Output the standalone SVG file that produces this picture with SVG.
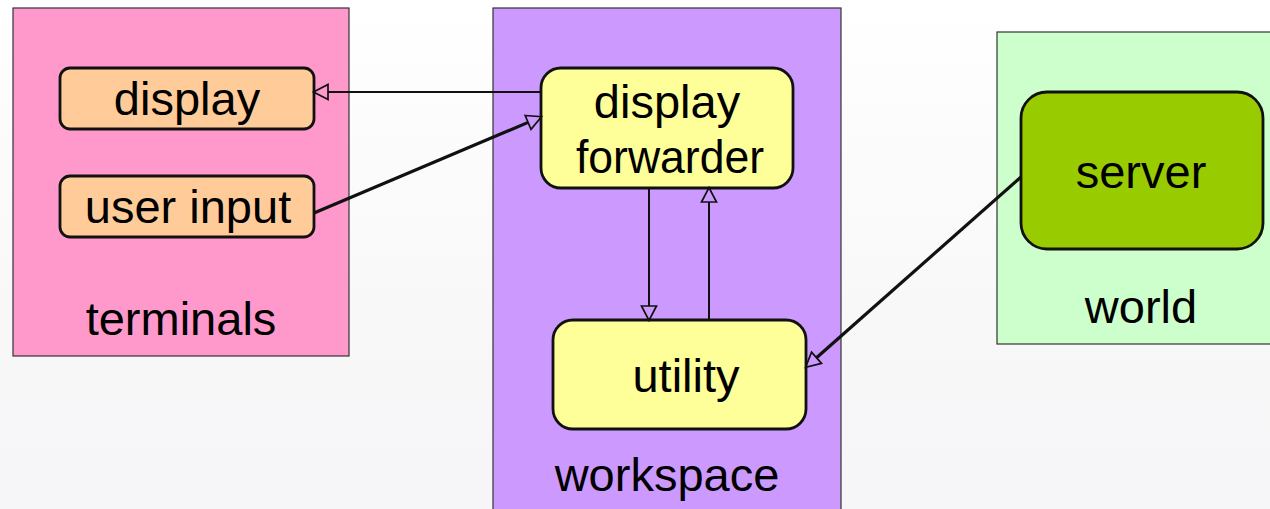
<svg xmlns="http://www.w3.org/2000/svg" width="1270" height="509" viewBox="0 0 1270 509">
  <defs>
    <linearGradient id="bg" x1="0" y1="0" x2="0" y2="1">
      <stop offset="0" stop-color="#ffffff"/>
      <stop offset="0.6" stop-color="#f8f8f9"/>
      <stop offset="1" stop-color="#f6f6f8"/>
    </linearGradient>
    <!-- hollow triangle head; its base sits at the line end -->
    <marker id="head" markerUnits="userSpaceOnUse" markerWidth="17" markerHeight="18" refX="0" refY="8" orient="auto" overflow="visible">
      <path d="M0,0.5 L14.5,8 L0,15.5 Z" fill="none" stroke="#111" stroke-width="1.7" stroke-linejoin="miter"/>
    </marker>
  </defs>
  <style>
    .frame { stroke: #333; stroke-width: 1.2; }
    .node { stroke: #111; stroke-width: 2.8; }
    .label { font-family: "Liberation Sans", Arial, sans-serif; font-size: 47px; fill: #000; text-anchor: middle; }
    .wire { fill: none; stroke: #111; stroke-width: 2; marker-end: url(#head); }
    .wire.thick { stroke-width: 3.2; }
  </style>

  <rect width="1270" height="509" fill="url(#bg)"/>

  <!-- containers -->
  <g id="terminals">
    <rect class="frame" x="13" y="8" width="336" height="348" fill="#ff99cc"/>
    <text class="label" x="181" y="335">terminals</text>
  </g>
  <g id="workspace">
    <rect class="frame" x="493" y="8" width="348" height="520" fill="#cc99ff"/>
    <text class="label" x="667" y="491">workspace</text>
  </g>
  <g id="world">
    <rect class="frame" x="997" y="32" width="290" height="312" fill="#ccffcc"/>
    <text class="label" x="1141" y="323">world</text>
  </g>

  <!-- nodes -->
  <g id="display">
    <rect class="node" x="60" y="68" width="254" height="61" rx="10" fill="#ffcc99"/>
    <text class="label" x="187" y="115">display</text>
  </g>
  <g id="user-input">
    <rect class="node" x="60" y="176" width="254" height="61" rx="10" fill="#ffcc99"/>
    <text class="label" x="188" y="223">user input</text>
  </g>
  <g id="display-forwarder">
    <rect class="node" x="541" y="68" width="252" height="120" rx="20" fill="#ffff99"/>
    <text class="label" x="667" y="118">display</text>
    <text class="label" x="670" y="173" textLength="188" lengthAdjust="spacingAndGlyphs">forwarder</text>
  </g>
  <g id="utility">
    <rect class="node" x="553" y="320" width="253" height="109" rx="20" fill="#ffff99"/>
    <text class="label" x="686" y="392">utility</text>
  </g>
  <g id="server">
    <rect class="node" x="1021" y="92" width="242" height="157" rx="26" fill="#99cc00"/>
    <text class="label" x="1141" y="188">server</text>
  </g>

  <!-- connectors -->
  <g id="connectors">
    <line class="wire" x1="541" y1="92" x2="328" y2="92"/>
    <line class="wire thick" x1="314" y1="213" x2="528.1" y2="122.4"/>
    <line class="wire" x1="649" y1="188" x2="649" y2="306"/>
    <line class="wire" x1="709" y1="320" x2="709" y2="202"/>
    <line class="wire thick" x1="1021" y1="177" x2="816.5" y2="357.7"/>
  </g>
</svg>
